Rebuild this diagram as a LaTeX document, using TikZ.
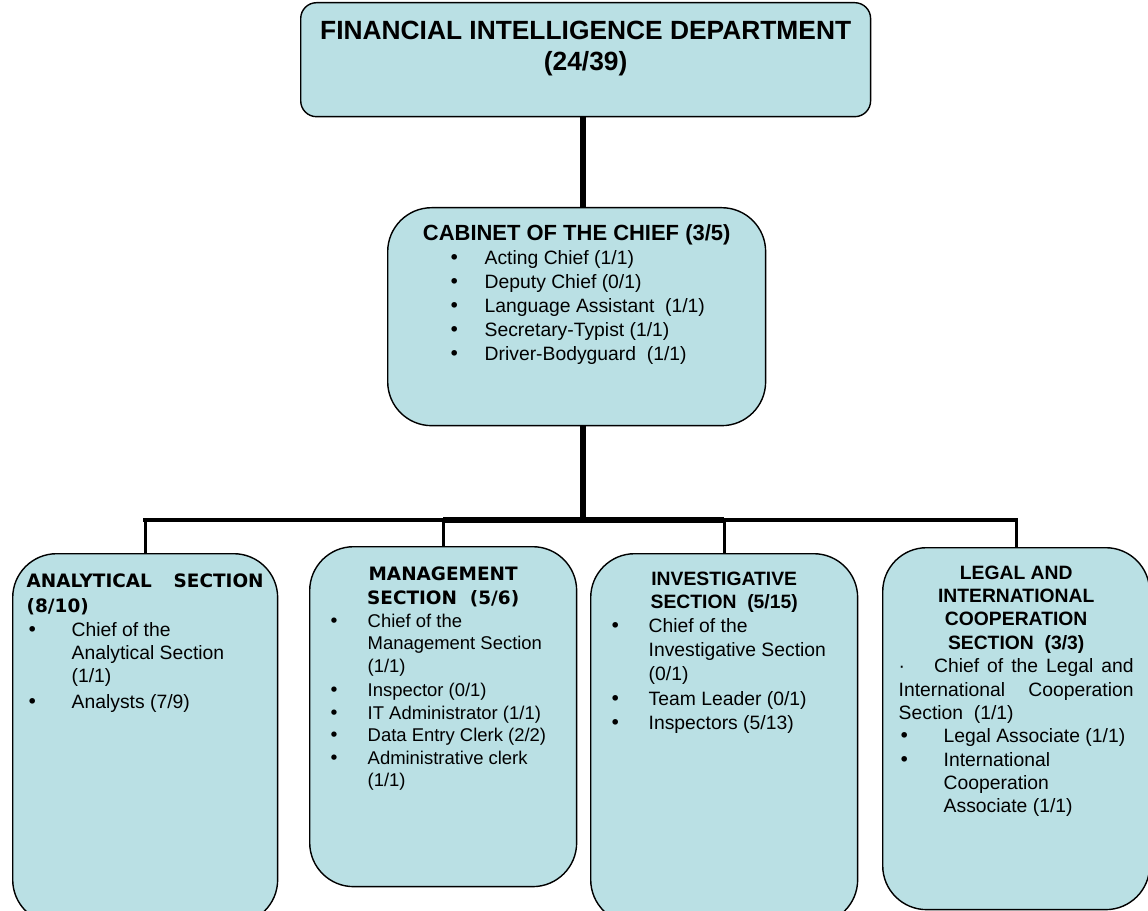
\documentclass[tikz,border=0pt]{standalone}
\usepackage{fontspec}
\setmainfont{Liberation Sans}
\newfontfamily\verd{DejaVu Sans}
\definecolor{boxblue}{RGB}{186,224,228}
\newcommand{\bul}[2]{\par\noindent\makebox[#1][l]{{\verd\textbullet}}\begin{tabular}[t]{@{}l@{}}#2\end{tabular}}

\begin{document}
\begin{tikzpicture}[x=0.02cm, y=-0.02cm,
  unitbox/.style={draw, thick, fill=boxblue, anchor=north west, rounded corners=25pt,
    inner xsep=0.38cm, inner ysep=0.36cm, font=\fontsize{11}{13.3}\selectfont},
  trunk/.style={line width=3.2pt},
  rail/.style={line width=2.3pt, line cap=rect},
  drop/.style={line width=1.7pt}]
\useasboundingbox (0,0) rectangle (1148,911);
\node (top)[unitbox, rounded corners=9pt, inner xsep=0.2cm] at (300,2) {\parbox[t][1.56cm][t]{11cm}{\centering\bfseries\fontsize{15}{18}\selectfont FINANCIAL INTELLIGENCE DEPARTMENT\\(24/39)}};
\node (cab)[unitbox, inner xsep=0.3cm, inner ysep=0.34cm] at (387,207) {\parbox[t][3.68cm][t]{6.96cm}{{\centering\bfseries\fontsize{12.5}{15}\selectfont CABINET OF THE CHIEF (3/5)\par}
  \fontsize{11}{13.6}\selectfont\leftskip=0.92cm
  \bul{0.72cm}{Acting Chief (1/1)}
  \bul{0.72cm}{Deputy Chief (0/1)}
  \bul{0.72cm}{Language Assistant\ \ (1/1)}
  \bul{0.72cm}{Secretary-Typist (1/1)}
  \bul{0.72cm}{Driver-Bodyguard\ \ (1/1)}}};
\node (ana)[unitbox, inner xsep=0.28cm, inner ysep=0.4cm] at (12,553) {\parbox[t][6.6cm][t]{4.74cm}{{\verd\bfseries\fontsize{10.5}{14.5}\selectfont\makebox[\linewidth][s]{ANALYTICAL SECTION}\\(8/10)\par}
  \bul{0.9cm}{Chief of the\\Analytical Section\\(1/1)}
  \bul{0.9cm}{Analysts (7/9)}}};
\node (man)[unitbox, inner ysep=0.4cm, font=\fontsize{10.5}{12.8}\selectfont] at (309,546) {\parbox[t][6cm][t]{4.58cm}{{\centering\verd\bfseries\fontsize{10.5}{14}\selectfont MANAGEMENT\\SECTION\ \ (5/6)\par}
  \bul{0.78cm}{Chief of the\\Management Section\\(1/1)}
  \bul{0.78cm}{Inspector (0/1)}
  \bul{0.78cm}{IT Administrator (1/1)}
  \bul{0.78cm}{Data Entry Clerk (2/2)}
  \bul{0.78cm}{Administrative clerk\\(1/1)}}};
\node (inv)[unitbox, font=\fontsize{11}{13.5}\selectfont] at (590,553) {\parbox[t][6.68cm][t]{4.58cm}{{\centering\bfseries INVESTIGATIVE\\SECTION\ \ (5/15)\par}
  \bul{0.78cm}{Chief of the\\Investigative Section\\(0/1)}
  \bul{0.78cm}{Team Leader (0/1)}
  \bul{0.78cm}{Inspectors (5/13)}}};
\node (leg)[unitbox, inner xsep=0.32cm] at (882,547) {\parbox[t][6.52cm][t]{4.7cm}{{\centering\bfseries LEGAL AND\\INTERNATIONAL\\COOPERATION\\SECTION\ \ (3/3)\par}
  \noindent\makebox[\linewidth][s]{·\hspace{1.5em}Chief of the Legal and}\\
  \makebox[\linewidth][s]{International Cooperation}\\
  Section\ \ (1/1)\par
  \bul{0.9cm}{Legal Associate (1/1)}
  \bul{0.9cm}{International\\Cooperation\\Associate (1/1)}}};
\coordinate (bus) at (583,520);
\draw[trunk] (top.south -| bus) -- (cab.north -| bus);
\draw[trunk] (cab.south -| bus) -- (bus);
\draw[rail] (ana.north |- bus) -- (leg.north |- bus);
\draw[trunk] (man.north |- bus) -- (inv.north |- bus);
\foreach \s in {ana,man,inv,leg} \draw[drop] (\s.north) -- (\s.north |- bus);
\end{tikzpicture}
\end{document}
